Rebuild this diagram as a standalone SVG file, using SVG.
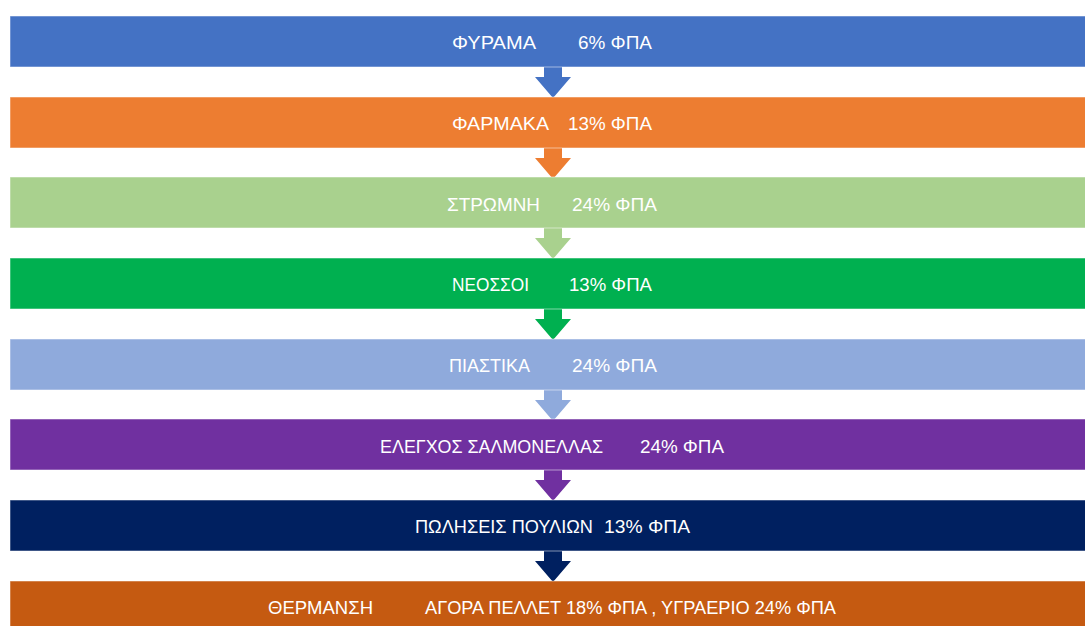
<svg xmlns="http://www.w3.org/2000/svg" width="1085" height="626" viewBox="0 0 1085 626">
<style>
.bar{stroke:#ffffff;stroke-opacity:0.5;stroke-width:1}
.t{font-family:"Liberation Sans",Arial,sans-serif;font-size:18px;fill:#ffffff}
</style>
<defs>
<path id="arr" d="M544,0 H562 V10 H571 L553,31 L535,10 H544 Z"/>
</defs>
<rect width="1085" height="626" fill="#ffffff"/>
<g id="connectors">
<use href="#arr" y="67" fill="#4472C4"/>
<use href="#arr" y="148" fill="#ED7D31"/>
<use href="#arr" y="228" fill="#A9D18E"/>
<use href="#arr" y="309" fill="#00B050"/>
<use href="#arr" y="390" fill="#8FAADC"/>
<use href="#arr" y="470" fill="#7030A0"/>
<use href="#arr" y="551" fill="#002060"/>
</g>
<g id="n1"><rect class="bar" x="10" y="16" width="1080" height="51" fill="#4472C4"/>
<text class="t" x="452" y="49" textLength="84" lengthAdjust="spacingAndGlyphs">ΦΥΡΑΜΑ</text><text class="t" x="578" y="49" textLength="74" lengthAdjust="spacingAndGlyphs">6% ΦΠΑ</text></g>
<g id="n2"><rect class="bar" x="10" y="97" width="1080" height="51" fill="#ED7D31"/>
<text class="t" x="452" y="130" textLength="97" lengthAdjust="spacingAndGlyphs">ΦΑΡΜΑΚΑ</text><text class="t" x="568" y="130" textLength="84" lengthAdjust="spacingAndGlyphs">13% ΦΠΑ</text></g>
<g id="n3"><rect class="bar" x="10" y="177" width="1080" height="51" fill="#A9D18E"/>
<text class="t" x="447" y="211" textLength="93" lengthAdjust="spacingAndGlyphs">ΣΤΡΩΜΝΗ</text><text class="t" x="572" y="211" textLength="85" lengthAdjust="spacingAndGlyphs">24% ΦΠΑ</text></g>
<g id="n4"><rect class="bar" x="10" y="258" width="1080" height="51" fill="#00B050"/>
<text class="t" x="452" y="291" textLength="77" lengthAdjust="spacingAndGlyphs">ΝΕΟΣΣΟΙ</text><text class="t" x="569" y="291" textLength="83" lengthAdjust="spacingAndGlyphs">13% ΦΠΑ</text></g>
<g id="n5"><rect class="bar" x="10" y="339" width="1080" height="51" fill="#8FAADC"/>
<text class="t" x="449" y="372" textLength="81" lengthAdjust="spacingAndGlyphs">ΠΙΑΣΤΙΚΑ</text><text class="t" x="572" y="372" textLength="85" lengthAdjust="spacingAndGlyphs">24% ΦΠΑ</text></g>
<g id="n6"><rect class="bar" x="10" y="419" width="1080" height="51" fill="#7030A0"/>
<text class="t" x="380" y="453" textLength="223" lengthAdjust="spacingAndGlyphs">ΕΛΕΓΧΟΣ ΣΑΛΜΟΝΕΛΛΑΣ</text><text class="t" x="640" y="453" textLength="84" lengthAdjust="spacingAndGlyphs">24% ΦΠΑ</text></g>
<g id="n7"><rect class="bar" x="10" y="500" width="1080" height="51" fill="#002060"/>
<text class="t" x="415" y="533" textLength="178" lengthAdjust="spacingAndGlyphs">ΠΩΛΗΣΕΙΣ ΠΟΥΛΙΩΝ</text><text class="t" x="604" y="533" textLength="86" lengthAdjust="spacingAndGlyphs">13% ΦΠΑ</text></g>
<g id="n8"><rect class="bar" x="10" y="581" width="1080" height="51" fill="#C55A11"/>
<text class="t" x="268" y="614" textLength="105" lengthAdjust="spacingAndGlyphs">ΘΕΡΜΑΝΣΗ</text><text class="t" x="425" y="614" textLength="411" lengthAdjust="spacingAndGlyphs">ΑΓΟΡΑ ΠΕΛΛΕΤ 18% ΦΠΑ , ΥΓΡΑΕΡΙΟ 24% ΦΠΑ</text></g>
</svg>
